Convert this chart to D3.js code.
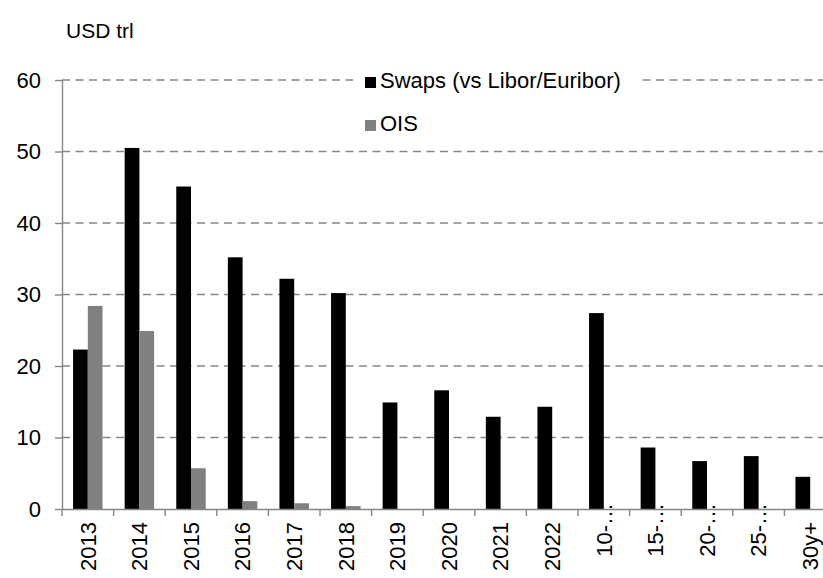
<!DOCTYPE html>
<html lang="en">
<head>
	<meta charset="UTF-8">
	<title>Swaps vs OIS</title>
	<script src="https://d3js.org/d3.v7.min.js"></script>
	<style>
		body { margin: 0; background: #fff; }
		text { font-family: Arial, "Liberation Sans", sans-serif; fill: #000; }
	</style>
</head>
<body>

<script>
	// ----data----
	var categories = ['2013', '2014', '2015', '2016', '2017', '2018', '2019', '2020', '2021', '2022',
		'10-\u2026', '15-\u2026', '20-\u2026', '25-\u2026', '30y+'];
	var swaps = [22.3, 50.5, 45.1, 35.2, 32.2, 30.2, 14.9, 16.6, 12.9, 14.3, 27.4, 8.6, 6.7, 7.4, 4.5];
	var ois = [28.4, 24.9, 5.7, 1.1, 0.8, 0.4, 0, 0, 0, 0, 0, 0, 0, 0, 0];
	var seriesNames = ['Swaps (vs Libor/Euribor)', 'OIS'];
	var seriesColors = ['#000000', '#808080'];
	var yTicks = [0, 10, 20, 30, 40, 50, 60];

	var width = 823, height = 578;
	var margin = {top: 80, left: 62, bottom: 69};
	var plotRight = 836;
	var fontSize = 22;
	var axisColor = '#868686';

	var svg = d3.select('body').append('svg')
		.attr('width', width)
		.attr('height', height);

	//----scales----
	var x = d3.scaleBand()
		.domain(categories)
		.range([margin.left, plotRight])
		.paddingInner(0)
		.paddingOuter(0);
	var x1 = d3.scaleBand()
		.domain(seriesNames)
		.range([0, x.bandwidth()])
		.paddingInner(0)
		.paddingOuter(0.75);
	var y = d3.scaleLinear()
		.domain([0, 60])
		.range([height - margin.bottom, margin.top]);

	//----grid----
	svg.append('g')
		.selectAll('line')
		.data(yTicks.filter(function (d) { return d > 0; }))
		.enter().append('line')
		.attr('x1', margin.left)
		.attr('x2', plotRight)
		.attr('y1', function (d) { return y(d); })
		.attr('y2', function (d) { return y(d); })
		.attr('stroke', axisColor)
		.attr('stroke-width', 1.4)
		.attr('stroke-dasharray', '8,5.5');

	//----bars----
	var rows = categories.map(function (c, i) {
		return {cat: c, values: [swaps[i], ois[i]]};
	});
	var groups = svg.append('g')
		.selectAll('g')
		.data(rows)
		.enter().append('g')
		.attr('transform', function (d) { return 'translate(' + x(d.cat) + ',0)'; });
	groups.selectAll('rect')
		.data(function (d) {
			return d.values.map(function (v, j) { return {name: seriesNames[j], value: v, color: seriesColors[j]}; });
		})
		.enter().append('rect')
		.attr('x', function (d) { return x1(d.name); })
		.attr('width', x1.bandwidth())
		.attr('y', function (d) { return y(d.value); })
		.attr('height', function (d) { return y(0) - y(d.value); })
		.attr('fill', function (d) { return d.color; });

	//----y axis----
	var yAxis = svg.append('g')
		.attr('transform', 'translate(' + margin.left + ',0)')
		.call(d3.axisLeft(y).tickValues(yTicks).tickSize(7).tickPadding(14).tickSizeOuter(0));
	yAxis.selectAll('path, line').attr('stroke', axisColor).attr('stroke-width', 1.4);
	yAxis.selectAll('text')
		.style('font-size', fontSize + 'px')
		.attr('fill', '#000');

	//----x axis----
	var xAxis = svg.append('g')
		.attr('transform', 'translate(0,' + y(0) + ')')
		.call(d3.axisBottom(x).tickSize(0).tickSizeOuter(0));
	xAxis.select('path').attr('stroke', axisColor).attr('stroke-width', 1.4);
	xAxis.selectAll('text')
		.style('font-size', fontSize + 'px')
		.attr('fill', '#000')
		.attr('text-anchor', 'end')
		.attr('transform', function (d) {
			// truncated labels sit higher, as in the source
			var off = d.indexOf('\u2026') >= 0 ? -6 : 13;
			return 'translate(0,' + off + ') rotate(-90)';
		})
		.attr('x', 0)
		.attr('y', 0)
		.attr('dy', '0.35em');

	// boundary ticks between categories
	svg.append('g')
		.selectAll('line')
		.data(categories.concat(['end']))
		.enter().append('line')
		.attr('x1', function (d, i) { return margin.left + i * x.step(); })
		.attr('x2', function (d, i) { return margin.left + i * x.step(); })
		.attr('y1', y(0))
		.attr('y2', y(0) + 7)
		.attr('stroke', axisColor)
		.attr('stroke-width', 1.4);

	//----unit label----
	svg.append('text')
		.attr('x', 66)
		.attr('y', 38)
		.style('font-size', '21px')
		.text('USD trl');

	//----legend----
	var legend = svg.append('g');
	legend.append('rect')
		.attr('x', 353)
		.attr('y', 66)
		.attr('width', 284)
		.attr('height', 74)
		.attr('fill', '#fff');
	var items = legend.selectAll('g')
		.data(seriesNames)
		.enter().append('g')
		.attr('transform', function (d, i) { return 'translate(365,' + (77 + i * 43) + ')'; });
	items.append('rect')
		.attr('width', 11)
		.attr('height', 11)
		.attr('fill', function (d, i) { return seriesColors[i]; });
	items.append('text')
		.attr('x', 15)
		.attr('y', 11)
		.style('font-size', fontSize + 'px')
		.text(function (d) { return d; });
</script>
</body>
</html>
